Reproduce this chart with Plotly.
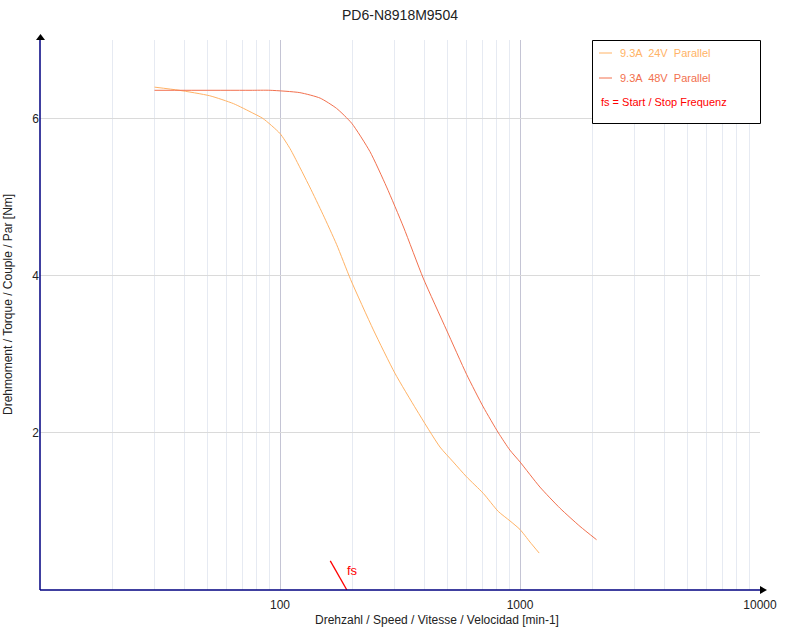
import math
import plotly.graph_objects as go

title = "PD6-N8918M9504"
series_names = ["9.3A  24V  Parallel", "9.3A  48V  Parallel"]
series_colors = ["#FFB366", "#F2704E"]

rpm_24 = [30, 38, 51, 64, 77, 85, 100, 110, 115, 133, 151, 172, 197, 245, 301, 371, 464, 527, 599, 703, 812, 908, 1000, 1101, 1202]
torque_24 = [6.40, 6.36, 6.29, 6.19, 6.07, 6.00, 5.81, 5.62, 5.51, 5.13, 4.78, 4.40, 3.95, 3.31, 2.76, 2.29, 1.82, 1.63, 1.44, 1.23, 1.00, 0.88, 0.77, 0.61, 0.47]

rpm_48 = [30, 75, 91, 121, 147, 172, 199, 237, 278, 327, 395, 494, 600, 703, 813, 908, 1000, 1211, 1469, 1778, 2084]
torque_48 = [6.36, 6.36, 6.36, 6.33, 6.26, 6.13, 5.94, 5.58, 5.13, 4.62, 3.97, 3.31, 2.74, 2.33, 2.00, 1.78, 1.63, 1.31, 1.04, 0.81, 0.64]

fs_label = "fs"
fs_rpm = [162, 190]
fs_torque = [0.37, 0.0]
fs_legend = "fs = Start / Stop Frequenz"

x_major = [100, 1000, 10000]
x_major_text = ["100", "1000", "10000"]
x_minor = [20, 30, 40, 50, 60, 70, 80, 90, 200, 300, 400, 500, 600, 700, 800, 900,
           2000, 3000, 4000, 5000, 6000, 7000, 8000, 9000]
y_ticks = [2, 4, 6]

x_title = "Drehzahl / Speed / Vitesse / Velocidad [min-1]"
y_title = "Drehmoment / Torque / Couple / Par [Nm]"

FONT = "Liberation Sans, Arial, sans-serif"

fig = go.Figure()
for rpm, tq, name, col in [(rpm_24, torque_24, series_names[0], series_colors[0]),
                           (rpm_48, torque_48, series_names[1], series_colors[1])]:
    fig.add_trace(go.Scatter(x=rpm, y=tq, mode="lines", name=name,
                             line=dict(color=col, width=1, shape="spline", smoothing=0.6),
                             showlegend=False, hoverinfo="skip"))

fig.add_trace(go.Scatter(x=fs_rpm, y=fs_torque, mode="lines",
                         line=dict(color="#FF0000", width=1.3), showlegend=False, hoverinfo="skip"))

W, H = 800, 630
L, R, T, B = 40, 40, 40, 40
pw, ph = W - L - R, H - T - B

def px(x):
    return (x - L) / pw

def py(y):
    return (H - B - y) / ph

shapes = []
shapes.append(dict(type="line", xref="paper", yref="paper", x0=0, x1=0, y0=0, y1=py(37),
                   line=dict(color="#000080", width=1.5)))
shapes.append(dict(type="line", xref="paper", yref="paper", x0=0, x1=px(762), y0=0, y1=0,
                   line=dict(color="#000080", width=1.5)))
shapes.append(dict(type="path", xref="paper", yref="paper",
                   path=f"M {px(36)} {py(40)} L {px(40.5)} {py(34)} L {px(45)} {py(40)} Z",
                   fillcolor="black", line=dict(width=0)))
shapes.append(dict(type="path", xref="paper", yref="paper",
                   path=f"M {px(760)} {py(586)} L {px(767)} {py(590)} L {px(760)} {py(594)} Z",
                   fillcolor="black", line=dict(width=0)))
shapes.append(dict(type="rect", xref="paper", yref="paper", x0=px(592.5), x1=px(760.5),
                   y0=py(123.5), y1=py(40.5), line=dict(color="black", width=1), fillcolor="white"))
for i, col in enumerate(series_colors):
    yy = 53 + 25 * i
    shapes.append(dict(type="line", xref="paper", yref="paper", x0=px(599), x1=px(612),
                       y0=py(yy), y1=py(yy), line=dict(color=col, width=1)))

annotations = []
for i, (name, col) in enumerate(zip(series_names, series_colors)):
    annotations.append(dict(xref="paper", yref="paper", x=px(618), y=py(53 + 25 * i),
                            text=name, showarrow=False, xanchor="left", yanchor="middle",
                            font=dict(family=FONT, size=11, color=col)))
annotations.append(dict(xref="paper", yref="paper", x=px(599), y=py(102),
                        text=fs_legend, showarrow=False, xanchor="left", yanchor="middle",
                        font=dict(family=FONT, size=11, color="#FF0000")))
annotations.append(dict(xref="x", yref="y", x=math.log10(fs_rpm[1]), y=fs_torque[0] * 0.66,
                        text=fs_label, showarrow=False, xanchor="left", yanchor="middle",
                        xshift=-2, font=dict(family=FONT, size=13, color="#FF0000")))
annotations.append(dict(xref="paper", yref="paper", x=px(437), y=py(620), text=x_title,
                        showarrow=False, xanchor="center", yanchor="middle",
                        font=dict(family=FONT, size=12, color="#222222")))
annotations.append(dict(xref="paper", yref="paper", x=px(8), y=py(305), text=y_title,
                        showarrow=False, xanchor="center", yanchor="middle", textangle=-90,
                        font=dict(family=FONT, size=12, color="#222222")))

fig.update_layout(
    width=W, height=H,
    margin=dict(l=L, r=R, t=T, b=B, autoexpand=False),
    paper_bgcolor="white", plot_bgcolor="white",
    title=dict(text=title, x=0.5, xanchor="center", y=1 - 15 / H, yanchor="middle",
               font=dict(family=FONT, size=14, color="#222222")),
    font=dict(family=FONT, size=12, color="#222222"),
    shapes=shapes, annotations=annotations,
    showlegend=False,
)
fig.update_xaxes(type="log", range=[1, 4], tickvals=x_major, ticktext=x_major_text,
                 showgrid=True, gridcolor="#C4C4D4", gridwidth=1, ticks="", zeroline=False,
                 showline=False, tickfont=dict(size=12, color="#222222"), ticklabelstandoff=6,
                 minor=dict(tickvals=x_minor, showgrid=True, gridcolor="#E6EAF2", gridwidth=1, ticks=""))
fig.update_yaxes(range=[0, 7], tickvals=y_ticks, showgrid=True, gridcolor="#DADADA",
                 ticks="", zeroline=False, showline=False, tickfont=dict(size=12, color="#222222"))

fig.write_html("out.html", config={"displayModeBar": False},
               post_script="document.body.style.margin='0';document.body.style.overflow='hidden';")
